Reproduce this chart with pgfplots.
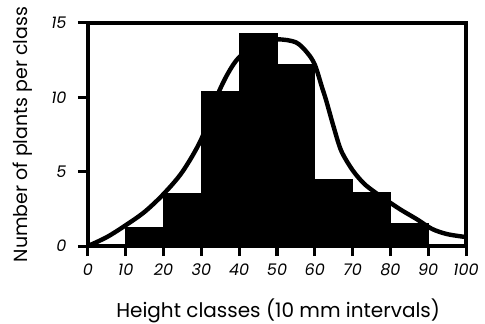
\documentclass[border=0pt]{standalone}
\usepackage{pgfplots}
\pgfplotsset{compat=1.18}
\usepackage{fontspec}
\setmainfont{Poppins}
\begin{document}
\begin{tikzpicture}
\begin{axis}[
  scale only axis, width=378pt, height=223pt,
  xmin=0, xmax=100, ymin=0, ymax=15,
  separate axis lines,
  axis line style={line width=3.2pt, line cap=rect},
  xtick={0,10,...,100}, ytick={0,5,10,15},
  major tick style={line width=3pt, black},
  tick align=outside, major tick length=10pt,
  xtick pos=bottom, ytick pos=left,
  ticklabel style={font=\fontsize{16}{16}\selectfont\itshape},
  xticklabel style={yshift=-4pt},
  yticklabel style={xshift=-8pt},
  /pgf/number format/assume math mode=true,
  xlabel={Height classes (10 mm intervals)},
  ylabel={Number of plants per class},
  every axis x label/.style={at={(axis description cs:0.503,-0.29)}, anchor=center, font=\fontsize{20}{20}\selectfont},
  every axis y label/.style={at={(axis description cs:-0.172,0.5)}, rotate=90, anchor=center, font=\fontsize{19}{19}\selectfont},
  clip=false,
]
\addplot[ybar interval, fill=black, draw=black, line width=1pt] coordinates {
  (10,1.25) (20,3.5) (30,10.4) (40,14.3) (50,12.2) (60,4.5) (70,3.6) (80,1.5) (90,0)
};
\addplot[smooth, line width=4.4pt, black] coordinates {
  (0,0) (5,0.6) (10,1.4) (15,2.3) (20,3.5) (25,5.0) (30,7.2) (34,10.0) (37,11.6)
  (40,12.7) (45,13.6) (50,13.9) (55,13.7) (58,13.0) (60,12.2) (62,10.6) (63,9.8)
  (65,8.0) (67,6.4) (70,5.1) (73,4.2) (76,3.6) (80,2.9) (83,2.4) (87,1.8)
  (91,1.15) (95,0.8) (100,0.6)
};
\end{axis}
\pgfresetboundingbox
\path (current axis.south west) ++(-88pt,-78pt) rectangle ++(485pt,324pt);
\end{tikzpicture}
\end{document}
